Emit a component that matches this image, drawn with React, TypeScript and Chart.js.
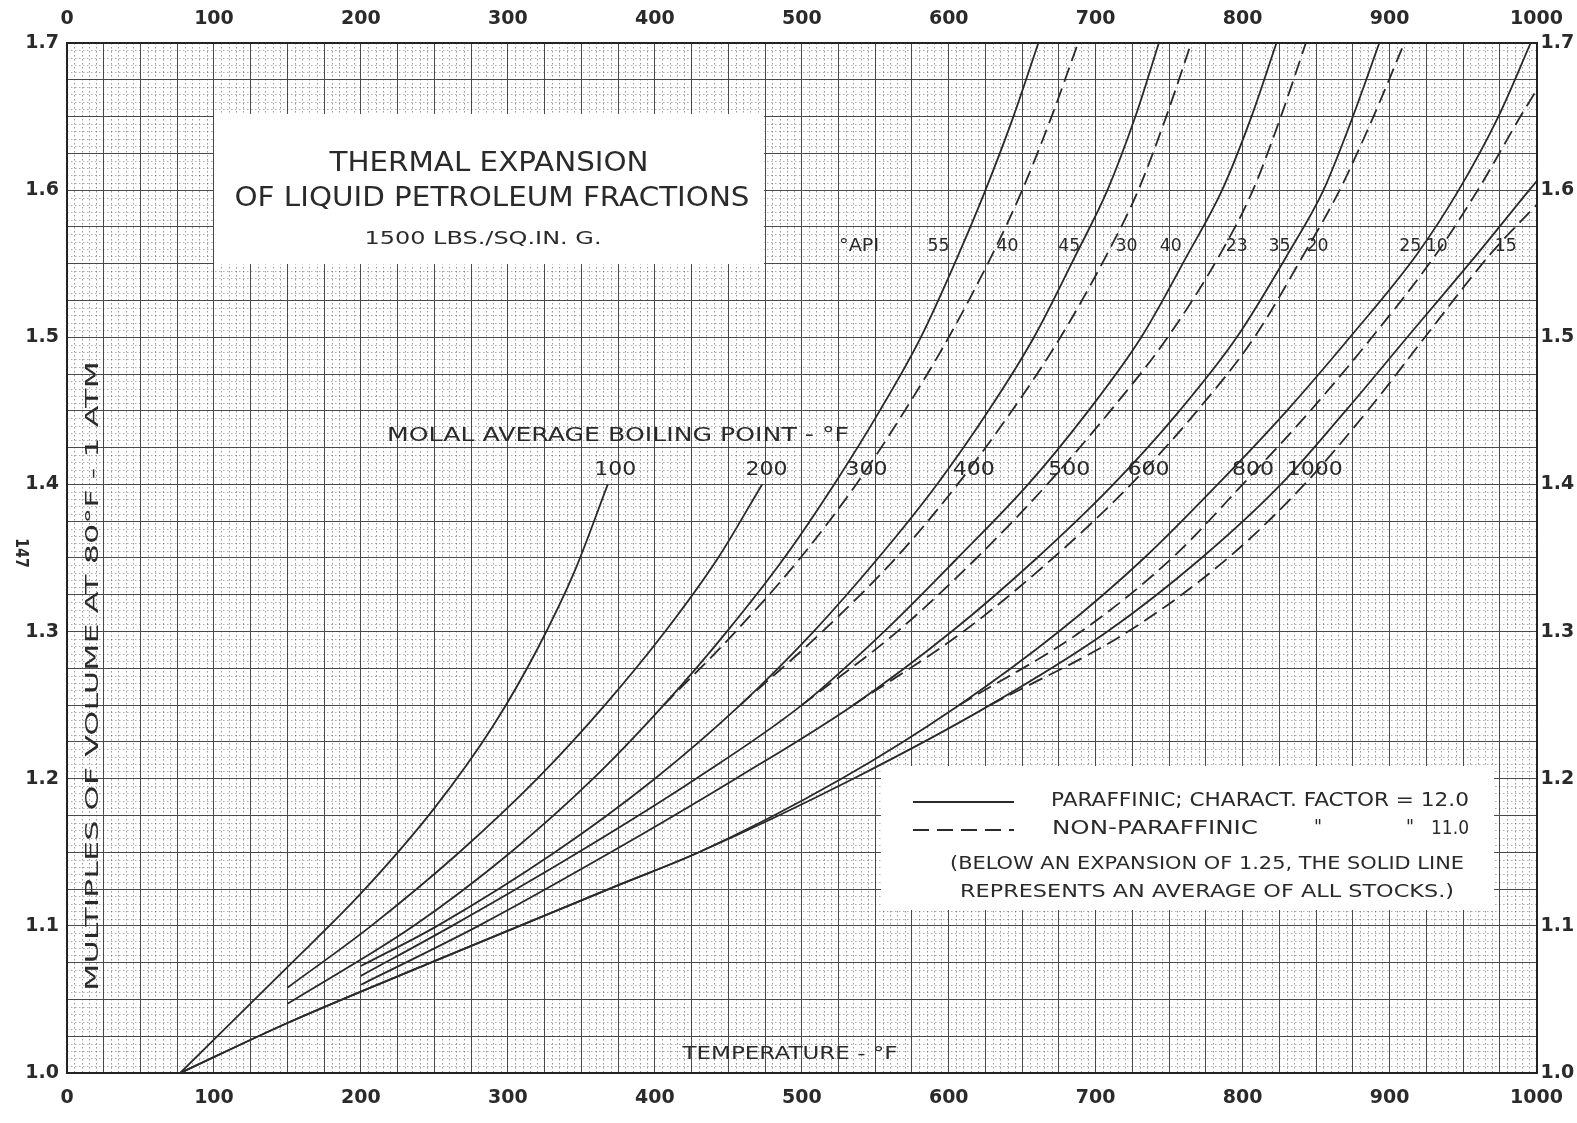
import React, { useEffect, useRef } from 'react';
import { Chart, registerables } from 'chart.js';
Chart.register(...registerables);

// ---------- data ----------
const xTickLabels = [0, 100, 200, 300, 400, 500, 600, 700, 800, 900, 1000];
const yTickLabels = [1.0, 1.1, 1.2, 1.3, 1.4, 1.5, 1.6, 1.7];

// each curve: temperatures (°F) and multiples of volume
const bp100T = [77, 150, 200, 250, 290, 320, 345, 368];
const bp100V = [1.0, 1.072, 1.122, 1.18, 1.236, 1.288, 1.34, 1.40];
const bp200T = [150, 207, 267, 320, 366, 407, 443, 473];
const bp200V = [1.058, 1.10, 1.15, 1.20, 1.25, 1.30, 1.35, 1.40];
const bp300ST = [150, 236, 302, 358, 406, 449, 488, 522, 553, 581, 607, 625, 644, 661];
const bp300SV = [1.047, 1.10, 1.15, 1.20, 1.25, 1.30, 1.35, 1.40, 1.45, 1.50, 1.557, 1.60, 1.65, 1.70];
const bp300DT = [406, 455, 499, 537, 570, 600, 630, 650, 670, 688];
const bp300DV = [1.25, 1.30, 1.35, 1.40, 1.45, 1.50, 1.557, 1.60, 1.65, 1.70];
const bp400ST = [200, 252, 332, 400, 458, 508, 552, 592, 627, 658, 687, 708, 727, 743];
const bp400SV = [1.0727, 1.10, 1.15, 1.20, 1.25, 1.30, 1.35, 1.40, 1.45, 1.50, 1.557, 1.60, 1.65, 1.70];
const bp400DT = [458, 514, 564, 606, 643, 676, 708, 729, 748, 765];
const bp400DV = [1.25, 1.30, 1.35, 1.40, 1.45, 1.50, 1.557, 1.60, 1.65, 1.70];
const bp500ST = [200, 262, 348, 428, 500, 556, 606, 654, 695, 731, 763, 786, 806, 823];
const bp500SV = [1.066, 1.10, 1.15, 1.20, 1.25, 1.30, 1.35, 1.40, 1.45, 1.50, 1.557, 1.60, 1.65, 1.70];
const bp500DT = [500, 565, 619, 667, 710, 749, 785, 807, 826, 843];
const bp500DV = [1.25, 1.30, 1.35, 1.40, 1.45, 1.50, 1.557, 1.60, 1.65, 1.70];
const bp600ST = [200, 280, 370, 455, 535, 602, 660, 712, 757, 796, 831, 855, 875, 893];
const bp600SV = [1.060, 1.10, 1.15, 1.20, 1.25, 1.30, 1.35, 1.40, 1.45, 1.50, 1.557, 1.60, 1.65, 1.70];
const bp600DT = [535, 610, 671, 724, 769, 808, 842, 866, 889, 910];
const bp600DV = [1.25, 1.30, 1.35, 1.40, 1.45, 1.50, 1.557, 1.60, 1.65, 1.70];
const bp800ST = [77, 150, 250, 376, 430, 527, 607, 675, 733, 783, 830, 873, 919, 947, 974, 996];
const bp800SV = [1.0, 1.034, 1.076, 1.128, 1.15, 1.20, 1.25, 1.30, 1.35, 1.40, 1.45, 1.50, 1.557, 1.60, 1.65, 1.70];
const bp800DT = [607, 690, 752, 800, 846, 888, 932, 960, 989, 1000];
const bp800DV = [1.25, 1.30, 1.35, 1.40, 1.45, 1.50, 1.557, 1.60, 1.65, 1.668];
const bp1000ST = [77, 150, 250, 376, 430, 535, 628, 708, 772, 826, 870, 912, 960, 995, 1000];
const bp1000SV = [1.0, 1.034, 1.076, 1.128, 1.15, 1.20, 1.25, 1.30, 1.35, 1.40, 1.45, 1.50, 1.557, 1.60, 1.606];
const bp1000DT = [628, 722, 790, 842, 885, 924, 969, 1000];
const bp1000DV = [1.25, 1.30, 1.35, 1.40, 1.45, 1.50, 1.557, 1.59];

const apiLabels = ['°API', '55', '40', '45', '30', '40', '23', '35', '20', '25', '10', '15'];
const apiLabelT = [539, 593, 640, 682, 721, 751, 796, 825, 851, 914, 932, 979];
const bpLabels = ['100', '200', '300', '400', '500', '600', '800', '1000'];
const bpLabelT = [373, 476, 544, 617, 682, 736, 807, 849];

// ---------- helpers ----------
const INK = '#2a2a2a';

function fitText(ctx: CanvasRenderingContext2D, text: string, cx: number, cy: number, size: number, width: number, weight = '500') {
  ctx.save();
  ctx.font = `${weight} ${size}px "DejaVu Sans", sans-serif`;
  ctx.textAlign = 'center';
  ctx.textBaseline = 'middle';
  const w = ctx.measureText(text).width;
  ctx.translate(cx, cy);
  ctx.scale(width / w, 1);
  ctx.fillText(text, 0, 0);
  ctx.restore();
}

const graphPaper = {
  id: 'graphPaper',
  beforeDatasetsDraw(chart: any) {
    const { ctx, chartArea, scales } = chart;
    const xs = scales.x, ys = scales.y;
    ctx.save();
    ctx.strokeStyle = 'rgba(50,50,50,0.5)';
    ctx.lineWidth = 1;
    ctx.setLineDash([1.5, 2.5]);
    for (let t = 0; t <= 1000; t += 5) {
      if (t % 25 === 0) continue;
      const px = Math.round(xs.getPixelForValue(t)) + 0.5;
      ctx.beginPath();
      ctx.moveTo(px, chartArea.top);
      ctx.lineTo(px, chartArea.bottom);
      ctx.stroke();
    }
    ctx.strokeStyle = 'rgba(50,50,50,0.4)';
    for (let i = 0; i <= 140; i++) {
      if (i % 5 === 0) continue;
      const v = 1 + i * 0.005;
      const py = Math.round(ys.getPixelForValue(v)) + 0.5;
      ctx.beginPath();
      ctx.moveTo(chartArea.left, py);
      ctx.lineTo(chartArea.right, py);
      ctx.stroke();
    }
    ctx.restore();
  },
  afterDatasetsDraw(chart: any) {
    const { ctx, scales } = chart;
    const xs = scales.x, ys = scales.y;
    ctx.save();
    // title box
    ctx.fillStyle = '#fff';
    ctx.fillRect(214, 114, 550, 150);
    // legend box
    ctx.fillRect(881, 766, 613, 144);
    ctx.fillStyle = INK;
    fitText(ctx, 'THERMAL EXPANSION', 489, 164, 27, 319);
    fitText(ctx, 'OF LIQUID PETROLEUM FRACTIONS', 492, 199, 27, 515);
    fitText(ctx, '1500 LBS./SQ.IN. G.', 483, 239, 18, 237);

    // legend
    ctx.strokeStyle = INK;
    ctx.lineWidth = 2;
    ctx.beginPath(); ctx.moveTo(913, 802); ctx.lineTo(1014, 802); ctx.stroke();
    ctx.setLineDash([16, 8]);
    ctx.beginPath(); ctx.moveTo(913, 830); ctx.lineTo(1014, 830); ctx.stroke();
    ctx.setLineDash([]);
    fitText(ctx, 'PARAFFINIC; CHARACT. FACTOR = 12.0', 1260, 801, 19, 418, '400');
    fitText(ctx, 'NON-PARAFFINIC', 1155, 829, 19, 206, '400');
    fitText(ctx, '"', 1318, 828, 19, 8, '400');
    fitText(ctx, '"', 1410, 828, 19, 8, '400');
    fitText(ctx, '11.0', 1450, 829, 19, 38, '400');
    fitText(ctx, '(BELOW AN EXPANSION OF 1.25, THE SOLID LINE', 1207, 864, 18, 514, '400');
    fitText(ctx, 'REPRESENTS AN AVERAGE OF ALL STOCKS.)', 1207, 892, 18, 494, '400');

    // in-plot labels
    fitText(ctx, 'MOLAL AVERAGE BOILING POINT - °F', 618, 436, 19, 462, '400');
    bpLabels.forEach((s, i) => {
      fitText(ctx, s, xs.getPixelForValue(bpLabelT[i]), ys.getPixelForValue(1.41), 19, s.length * 14, '400');
    });
    apiLabels.forEach((s, i) => {
      fitText(ctx, s, xs.getPixelForValue(apiLabelT[i]), ys.getPixelForValue(1.5615), 17, s.length === 4 ? 40 : 22, '400');
    });
    fitText(ctx, 'TEMPERATURE - °F', 790, 1054, 18, 215, '400');

    // y title (rotated)
    ctx.save();
    ctx.translate(93, 676);
    ctx.rotate(-Math.PI / 2);
    fitText(ctx, 'MULTIPLES OF VOLUME AT 80°F - 1 ATM', 0, 0, 18, 630, '400');
    ctx.restore();
    // page number
    ctx.save();
    ctx.translate(20, 553);
    ctx.rotate(Math.PI / 2);
    fitText(ctx, '147', 0, 0, 17, 30, '700');
    ctx.restore();
    ctx.restore();
  },
};

function line(ts: number[], vs: number[], dashed: boolean) {
  return {
    data: ts.map((x, i) => ({ x, y: vs[i] })),
    borderColor: INK,
    borderWidth: 1.8,
    borderDash: dashed ? [15, 7] : [],
    pointRadius: 0,
    fill: false,
    cubicInterpolationMode: 'monotone' as const,
  };
}

export default function App() {
  const ref = useRef<HTMLCanvasElement>(null);
  useEffect(() => {
    const tickFont = { family: '"DejaVu Sans", sans-serif', size: 19, weight: 'bold' as const };
    const xLabel = (v: any) => (xTickLabels.includes(Number(v)) ? String(v) : '');
    const yLabel = (v: any) => {
      const n = Math.round(Number(v) * 1000);
      return n % 100 === 0 && yTickLabels.includes(n / 1000) ? (n / 1000).toFixed(1) : '';
    };
    const gridColor = '#4a4a4a';
    const chart = new Chart(ref.current!, {
      type: 'line',
      data: {
        datasets: [
          line(bp100T, bp100V, false), line(bp200T, bp200V, false),
          line(bp300ST, bp300SV, false), line(bp300DT, bp300DV, true),
          line(bp400ST, bp400SV, false), line(bp400DT, bp400DV, true),
          line(bp500ST, bp500SV, false), line(bp500DT, bp500DV, true),
          line(bp600ST, bp600SV, false), line(bp600DT, bp600DV, true),
          line(bp800ST, bp800SV, false), line(bp800DT, bp800DV, true),
          line(bp1000ST, bp1000SV, false), line(bp1000DT, bp1000DV, true),
        ] as any,
      },
      options: {
        animation: false,
        responsive: false,
        parsing: false as any,
        plugins: { legend: { display: false }, tooltip: { enabled: false } },
        layout: { padding: 0 },
        scales: {
          x: {
            type: 'linear', position: 'bottom', min: 0, max: 1000,
            afterFit: (s: any) => { s.height = 50; },
            ticks: { stepSize: 25, autoSkip: false, callback: xLabel, font: tickFont, color: INK, padding: 14, maxRotation: 0 },
            grid: { color: gridColor, lineWidth: 1, drawTicks: false },
            border: { color: '#222', width: 2 },
          },
          x2: {
            type: 'linear', position: 'top', min: 0, max: 1000,
            afterFit: (s: any) => { s.height = 43; },
            ticks: { stepSize: 25, autoSkip: false, callback: xLabel, font: tickFont, color: INK, padding: 13, maxRotation: 0 },
            grid: { drawOnChartArea: false, drawTicks: false },
            border: { color: '#222', width: 2 },
          },
          y: {
            type: 'linear', position: 'left', min: 1.0, max: 1.7,
            afterFit: (s: any) => { s.width = 67; },
            ticks: { stepSize: 0.025, autoSkip: false, callback: yLabel, font: tickFont, color: INK, padding: 8 },
            grid: { color: gridColor, lineWidth: 1, drawTicks: false },
            border: { color: '#222', width: 2 },
          },
          y2: {
            type: 'linear', position: 'right', min: 1.0, max: 1.7,
            afterFit: (s: any) => { s.width = 40; },
            ticks: { stepSize: 0.025, autoSkip: false, callback: yLabel, font: tickFont, color: INK, padding: 4 },
            grid: { drawOnChartArea: false, drawTicks: false },
            border: { color: '#222', width: 2 },
          },
        },
      } as any,
      plugins: [graphPaper],
    });
    return () => chart.destroy();
  }, []);
  return (
    <div style={{ position: 'fixed', left: 0, top: 0, width: 1577, height: 1123, background: '#fff' }}>
      <canvas ref={ref} width={1577} height={1123} style={{ width: 1577, height: 1123 }} />
    </div>
  );
}
